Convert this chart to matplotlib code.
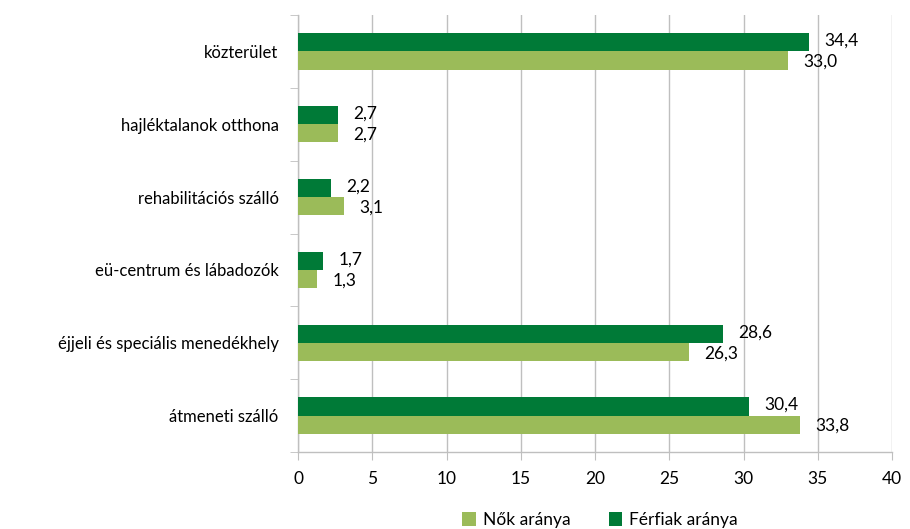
import matplotlib
matplotlib.use("Agg")
import matplotlib.pyplot as plt
import numpy as np

categories = ["átmeneti szálló", "éjjeli és speciális menedékhely", "eü-centrum és lábadozók",
              "rehabilitációs szálló", "hajléktalanok otthona", "közterület"]
nok = [33.8, 26.3, 1.3, 3.1, 2.7, 33.0]
ferfiak = [30.4, 28.6, 1.7, 2.2, 2.7, 34.4]
xticks = [0, 5, 10, 15, 20, 25, 30, 35, 40]

plt.rcParams['font.family'] = ['Lato', 'DejaVu Sans']

light = "#9BBB59"
dark = "#007A37"
grid = "#BFBFBF"

fig = plt.figure(figsize=(9.10, 5.29), dpi=100)
ax = fig.add_axes([298/910, 1 - 452/529, (892-298)/910, (452-15)/529])

y = np.arange(len(categories))
h = 0.25
b1 = ax.barh(y - h/2, nok, height=h, color=light, label="Nők aránya", zorder=3)
b2 = ax.barh(y + h/2, ferfiak, height=h, color=dark, label="Férfiak aránya", zorder=3)

def fmt(v):
    return f"{v:.1f}".replace(".", ",")

for yy, v in zip(y, nok):
    ax.annotate(fmt(v), (v, yy - h/2), xytext=(11, -1), textcoords="offset points",
                va="center", ha="left", fontsize=12.5, color="black")
for yy, v in zip(y, ferfiak):
    ax.annotate(fmt(v), (v, yy + h/2), xytext=(11, 1), textcoords="offset points",
                va="center", ha="left", fontsize=12.5, color="black")

ax.set_xlim(0, 40)
ax.set_ylim(-0.5, len(categories) - 0.5)
ax.set_xticks(xticks)
ax.set_xticklabels([str(t) for t in xticks], fontsize=12.5)
ax.set_yticks(y)
ax.set_yticklabels(categories, fontsize=12)
ax.set_yticks(np.arange(-0.5, len(categories), 1.0), minor=True)
ax.tick_params(axis='y', which='major', length=0, pad=14)
ax.tick_params(axis='y', which='minor', length=6, color=grid, direction='out')
ax.tick_params(axis='x', length=6, color=grid, direction='out', pad=8)

ax.grid(axis='x', color=grid, linewidth=1, zorder=0)
ax.set_axisbelow(True)
for s in ["top", "right"]:
    ax.spines[s].set_visible(False)
for s in ["left", "bottom"]:
    ax.spines[s].set_color(grid)
    ax.spines[s].set_linewidth(1)

fig.legend(handles=[b1, b2], loc="center", bbox_to_anchor=(600/910, 1 - 520/529),
           ncol=2, frameon=False, fontsize=12.5, handlelength=0.8, handleheight=0.8,
           columnspacing=2.2, handletextpad=0.4)

fig.savefig("out.png", dpi=100)
